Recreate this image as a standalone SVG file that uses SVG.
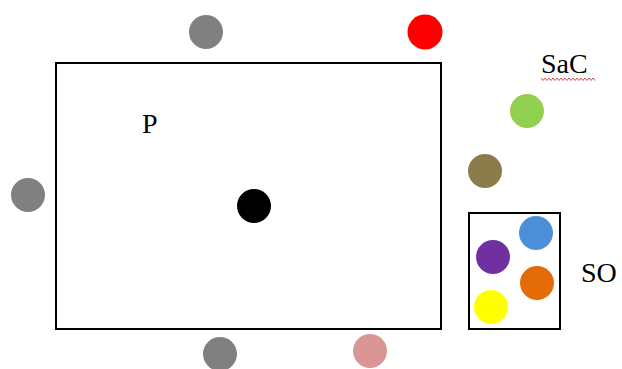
<svg xmlns="http://www.w3.org/2000/svg" width="622" height="369" viewBox="0 0 622 369">
<style>
.box{fill:#fff;stroke:#000;stroke-width:2}
.lbl{font-family:"Liberation Serif",serif;font-size:28px;fill:#000}
</style>
<rect width="622" height="369" fill="#fff"/>
<g id="P">
<rect class="box" x="56" y="63" width="385" height="266"/>
<text class="lbl" x="142" y="133">P</text>
</g>
<g id="center"><circle cx="254" cy="206" r="17" fill="#000"/></g>
<g id="gray-top"><circle cx="206" cy="32" r="17" fill="#808080"/></g>
<g id="red"><circle cx="425" cy="32" r="17.5" fill="#ff0000"/></g>
<g id="gray-left"><circle cx="28" cy="195" r="17" fill="#808080"/></g>
<g id="gray-bottom"><circle cx="220" cy="354" r="17" fill="#808080"/></g>
<g id="pink"><circle cx="370" cy="351" r="17" fill="#d99694"/></g>
<g id="SaC">
<text class="lbl" x="541" y="73">SaC</text>
<path d="M541 78 l2 2.5 l2 -2.5 l2 2.5 l2 -2.5 l2 2.5 l2 -2.5 l2 2.5 l2 -2.5 l2 2.5 l2 -2.5 l2 2.5 l2 -2.5 l2 2.5 l2 -2.5 l2 2.5 l2 -2.5 l2 2.5 l2 -2.5 l2 2.5 l2 -2.5 l2 2.5 l2 -2.5 l2 2.5 l2 -2.5 l2 2.5 l2 -2.5 l2 2.5" fill="none" stroke="#c0504d" stroke-width="1"/>
</g>
<g id="green"><circle cx="527" cy="111" r="17" fill="#92d050"/></g>
<g id="olive"><circle cx="485" cy="171" r="17" fill="#8b7d4b"/></g>
<g id="SO">
<rect class="box" x="469" y="213" width="91" height="116"/>
<circle cx="536" cy="233" r="17" fill="#4a8fd8"/>
<circle cx="493" cy="257" r="17" fill="#7030a0"/>
<circle cx="537" cy="283" r="17" fill="#e36c09"/>
<circle cx="491" cy="307" r="17" fill="#ffff00"/>
<text class="lbl" x="581" y="282">SO</text>
</g>
<g id="connectors"/>
</svg>
